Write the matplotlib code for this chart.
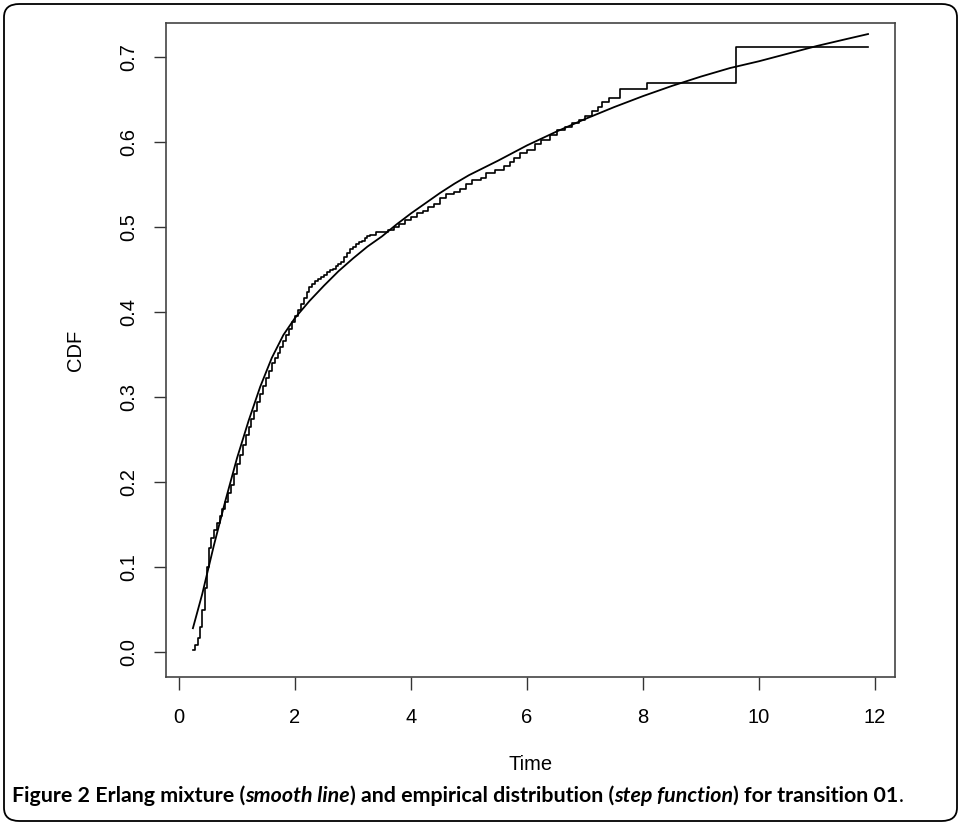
import numpy as np
import matplotlib.pyplot as plt
from matplotlib.patches import FancyBboxPatch

# smooth line (Erlang mixture CDF)
smooth_t = [0.24, 0.4, 0.6, 0.8, 1.0, 1.2, 1.4, 1.6, 1.8, 2.0, 2.25, 2.5, 2.75,
            3.0, 3.25, 3.5, 3.75, 4.0, 4.25, 4.5, 4.75, 5.0, 5.5, 6.0, 6.5, 7.0,
            7.5, 8.0, 8.5, 9.0, 9.5, 10.0, 10.5, 11.0, 11.5, 11.88]
smooth_p = [0.028, 0.068, 0.125, 0.178, 0.228, 0.272, 0.312, 0.346, 0.373, 0.393,
            0.413, 0.431, 0.448, 0.463, 0.477, 0.489, 0.503, 0.516, 0.528, 0.540,
            0.551, 0.561, 0.578, 0.596, 0.612, 0.627, 0.641, 0.654, 0.666, 0.677,
            0.687, 0.695, 0.704, 0.713, 0.721, 0.727]

# empirical distribution (step function)
ecdf_t = [0.24, 0.28, 0.32, 0.36, 0.40, 0.44, 0.48, 0.52, 0.56, 0.60, 0.65, 0.70,
          0.75, 0.80, 0.85, 0.90, 0.95, 1.00, 1.05, 1.10, 1.15, 1.20, 1.25, 1.30,
          1.35, 1.40, 1.45, 1.50, 1.55, 1.60, 1.65, 1.70, 1.75, 1.80, 1.85, 1.90,
          1.95, 2.00, 2.05, 2.10, 2.15, 2.20, 2.25, 2.30, 2.35, 2.40, 2.45, 2.50,
          2.55, 2.60, 2.65, 2.70, 2.75, 2.80, 2.85, 2.90, 2.95, 3.00, 3.05, 3.10,
          3.15, 3.20, 3.25, 3.30, 3.40, 3.60, 3.70, 3.80, 3.90, 4.00, 4.10, 4.20,
          4.30, 4.40, 4.50, 4.60, 4.75, 4.85, 4.95, 5.05, 5.20, 5.30, 5.45, 5.60,
          5.70, 5.78, 5.88, 6.00, 6.14, 6.25, 6.40, 6.52, 6.65, 6.78, 6.90, 7.00,
          7.12, 7.22, 7.30, 7.42, 7.60, 8.07, 9.60, 11.88]
ecdf_p = [0.002, 0.008, 0.016, 0.030, 0.050, 0.075, 0.100, 0.122, 0.134, 0.143, 0.152, 0.160,
          0.168, 0.177, 0.187, 0.197, 0.209, 0.221, 0.232, 0.244, 0.255, 0.265, 0.274, 0.284,
          0.294, 0.303, 0.313, 0.322, 0.331, 0.340, 0.346, 0.352, 0.359, 0.366, 0.373, 0.380,
          0.388, 0.395, 0.402, 0.409, 0.417, 0.424, 0.429, 0.433, 0.436, 0.439, 0.441, 0.444,
          0.447, 0.449, 0.451, 0.454, 0.456, 0.459, 0.465, 0.470, 0.474, 0.477, 0.480, 0.482,
          0.484, 0.487, 0.489, 0.491, 0.494, 0.496, 0.500, 0.504, 0.508, 0.512, 0.516, 0.519,
          0.523, 0.527, 0.534, 0.539, 0.541, 0.545, 0.551, 0.555, 0.558, 0.563, 0.567, 0.572,
          0.576, 0.581, 0.587, 0.591, 0.598, 0.602, 0.608, 0.614, 0.618, 0.622, 0.626, 0.631,
          0.636, 0.641, 0.647, 0.652, 0.662, 0.670, 0.712, 0.712]

x_ticks = [0, 2, 4, 6, 8, 10, 12]
y_ticks = [0.0, 0.1, 0.2, 0.3, 0.4, 0.5, 0.6, 0.7]

caption = [("Figure 2 Erlang mixture (", "bold", "normal"),
           ("smooth line", "bold", "italic"),
           (") and empirical distribution (", "bold", "normal"),
           ("step function", "bold", "italic"),
           (") for transition 01", "bold", "normal"),
           (".", "normal", "normal")]

W, H = 961, 825
plt.rcParams['font.family'] = ['Liberation Sans', 'DejaVu Sans']
fig = plt.figure(figsize=(W / 100, H / 100), dpi=100)

# rounded frame round the whole figure
frame = FancyBboxPatch((4 / W, 4 / H), 953 / W, 817 / H,
                       boxstyle="round,pad=0,rounding_size=0.016",
                       transform=fig.transFigure, fill=False, ec='black', lw=1.3)
fig.patches.append(frame)

ax = fig.add_axes([166 / W, (H - 677) / H, (895 - 166) / W, (677 - 23) / H])
ax.step(ecdf_t, ecdf_p, where='post', color='black', lw=1.2)
ax.plot(smooth_t, smooth_p, color='black', lw=1.3)

ax.set_xlim(-0.224, 12.345)
ax.set_ylim(-0.0294, 0.740)
ax.set_xticks(x_ticks)
ax.set_xticklabels([str(v) for v in x_ticks])
ax.set_yticks(y_ticks)
ax.set_yticklabels(["%.1f" % v for v in y_ticks], rotation=90, va='center')
ax.tick_params(direction='out', length=9, width=1.0, color='#333333',
               labelsize=14.5, pad=13)
ax.tick_params(axis='y', pad=11)
for s in ax.spines.values():
    s.set_color('#444444')
    s.set_linewidth(1.2)

fig.text(530.5 / W, 1 - 765 / H, "Time", fontsize=14.5, ha='center', va='center')
fig.text(75 / W, 1 - 350 / H, "CDF", fontsize=14.5, ha='center', va='center',
         rotation=90)

# caption written piece by piece so bold and italic can be mixed
fig.canvas.draw()
r = fig.canvas.get_renderer()
x = 12
for txt, weight, style in caption:
    t = fig.text(x / W, 1 - 802 / H, txt, fontsize=15.4, fontweight=weight,
                 fontstyle=style, family=['Lato', 'DejaVu Sans'],
                 ha='left', va='baseline')
    x = t.get_window_extent(r).x1

fig.savefig("out.png", dpi=100)
